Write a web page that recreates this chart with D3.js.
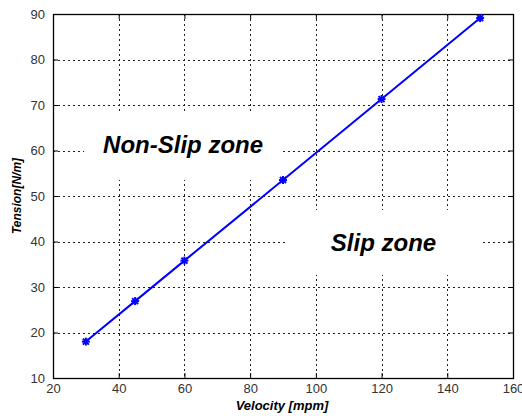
<!DOCTYPE html>
<html>
<head>
<meta charset="utf-8">
<script src="https://cdn.jsdelivr.net/npm/d3@7"></script>
<style>
  body { margin: 0; background: #fff; }
  text { font-family: Arial, "Liberation Sans", sans-serif; }
</style>
</head>
<body>
<div id="chart"></div>
<script>
// data
const velocity = [30, 45, 60, 90, 120, 150];
const tension = [18, 26.9, 35.8, 53.5, 71.3, 89.1];
const xTicks = [20, 40, 60, 80, 100, 120, 140, 160];
const yTicks = [10, 20, 30, 40, 50, 60, 70, 80, 90];

const margin = { top: 14, right: 9, bottom: 38, left: 53 };
const W = 522, H = 416;
const width = W - margin.left - margin.right;
const height = H - margin.top - margin.bottom;

const svg = d3.select("#chart")
    .append("svg")
    .attr("width", W)
    .attr("height", H);

const g = svg.append("g")
    .attr("transform", `translate(${margin.left},${margin.top})`);

const x = d3.scaleLinear().domain([20, 160]).range([0, width]);
const y = d3.scaleLinear().domain([10, 90]).range([height, 0]);

// grid
const grid = g.append("g")
    .attr("stroke", "#222")
    .attr("stroke-width", 1)
    .attr("stroke-dasharray", "2,3");
grid.selectAll(".gx")
    .data(xTicks.slice(1, -1))
    .enter().append("line")
    .attr("x1", d => Math.round(x(d)) + 0.5).attr("x2", d => Math.round(x(d)) + 0.5)
    .attr("y1", 0).attr("y2", height);
grid.selectAll(".gy")
    .data(yTicks.slice(1, -1))
    .enter().append("line")
    .attr("y1", d => Math.round(y(d)) + 0.5).attr("y2", d => Math.round(y(d)) + 0.5)
    .attr("x1", 0).attr("x2", width);

// white boxes behind the zone labels
const zones = [
  { label: "Non-Slip zone", vx: 59.6, vy: 61, w: 198, h: 68, dy: 7 },
  { label: "Slip zone", vx: 120.6, vy: 39.8, w: 197, h: 65, dy: 9 }
];
g.selectAll(".zbox")
    .data(zones)
    .enter().append("rect")
    .attr("x", d => x(d.vx) - d.w / 2)
    .attr("y", d => y(d.vy) - d.h / 2)
    .attr("width", d => d.w)
    .attr("height", d => d.h)
    .attr("fill", "#fff");
g.selectAll(".zlabel")
    .data(zones)
    .enter().append("text")
    .attr("x", d => x(d.vx))
    .attr("y", d => y(d.vy) + d.dy)
    .attr("text-anchor", "middle")
    .attr("font-size", 24)
    .attr("font-weight", "bold")
    .attr("font-style", "italic")
    .attr("fill", "#000")
    .text(d => d.label);

// axes (ticks inside, on all four sides)
const axisStyle = sel => {
  sel.select(".domain").remove();
  sel.selectAll(".tick line").attr("stroke", "#000");
  sel.selectAll(".tick text")
      .attr("font-size", 13)
      .attr("fill", "#333")
      .attr("font-family", "Arial, 'Liberation Sans', sans-serif");
};

g.append("g")
    .attr("transform", `translate(0,${height})`)
    .call(d3.axisBottom(x).tickValues(xTicks).tickSizeInner(-5).tickSizeOuter(0).tickPadding(6))
    .call(axisStyle);
g.append("g")
    .call(d3.axisTop(x).tickValues(xTicks).tickSizeInner(-5).tickSizeOuter(0).tickFormat(""))
    .call(axisStyle);
g.append("g")
    .call(d3.axisLeft(y).tickValues(yTicks).tickSizeInner(-5).tickSizeOuter(0).tickPadding(8))
    .call(axisStyle);
g.append("g")
    .attr("transform", `translate(${width},0)`)
    .call(d3.axisRight(y).tickValues(yTicks).tickSizeInner(-5).tickSizeOuter(0).tickFormat(""))
    .call(axisStyle);

// box
g.append("rect")
    .attr("x", 0.5).attr("y", 0.5)
    .attr("width", width).attr("height", height)
    .attr("fill", "none")
    .attr("stroke", "#000")
    .attr("stroke-width", 1.3);

// line
const pts = velocity.map((v, i) => [v, tension[i]]);
g.append("path")
    .datum(pts)
    .attr("fill", "none")
    .attr("stroke", "#0000ff")
    .attr("stroke-width", 2)
    .attr("d", d3.line().x(d => x(d[0])).y(d => y(d[1])));

// asterisk markers
const star = g.selectAll(".pt")
    .data(pts)
    .enter().append("g")
    .attr("transform", d => `translate(${x(d[0])},${y(d[1])})`)
    .attr("stroke", "#0000ff")
    .attr("stroke-width", 2);
star.append("line").attr("x1", -4).attr("x2", 4).attr("y1", 0).attr("y2", 0);
star.append("line").attr("x1", 0).attr("x2", 0).attr("y1", -4).attr("y2", 4);
star.append("line").attr("x1", -3).attr("x2", 3).attr("y1", -3).attr("y2", 3);
star.append("line").attr("x1", -3).attr("x2", 3).attr("y1", 3).attr("y2", -3);

// axis titles
svg.append("text")
    .attr("x", 282)
    .attr("y", 410)
    .attr("text-anchor", "middle")
    .attr("font-size", 13)
    .attr("font-weight", "bold")
    .attr("font-style", "italic")
    .attr("fill", "#000")
    .text("Velocity [mpm]");
svg.append("text")
    .attr("transform", `translate(21,196) rotate(-90)`)
    .attr("text-anchor", "middle")
    .attr("font-size", 12)
    .attr("font-weight", "bold")
    .attr("font-style", "italic")
    .attr("fill", "#000")
    .text("Tension[N/m]");
</script>
</body>
</html>
